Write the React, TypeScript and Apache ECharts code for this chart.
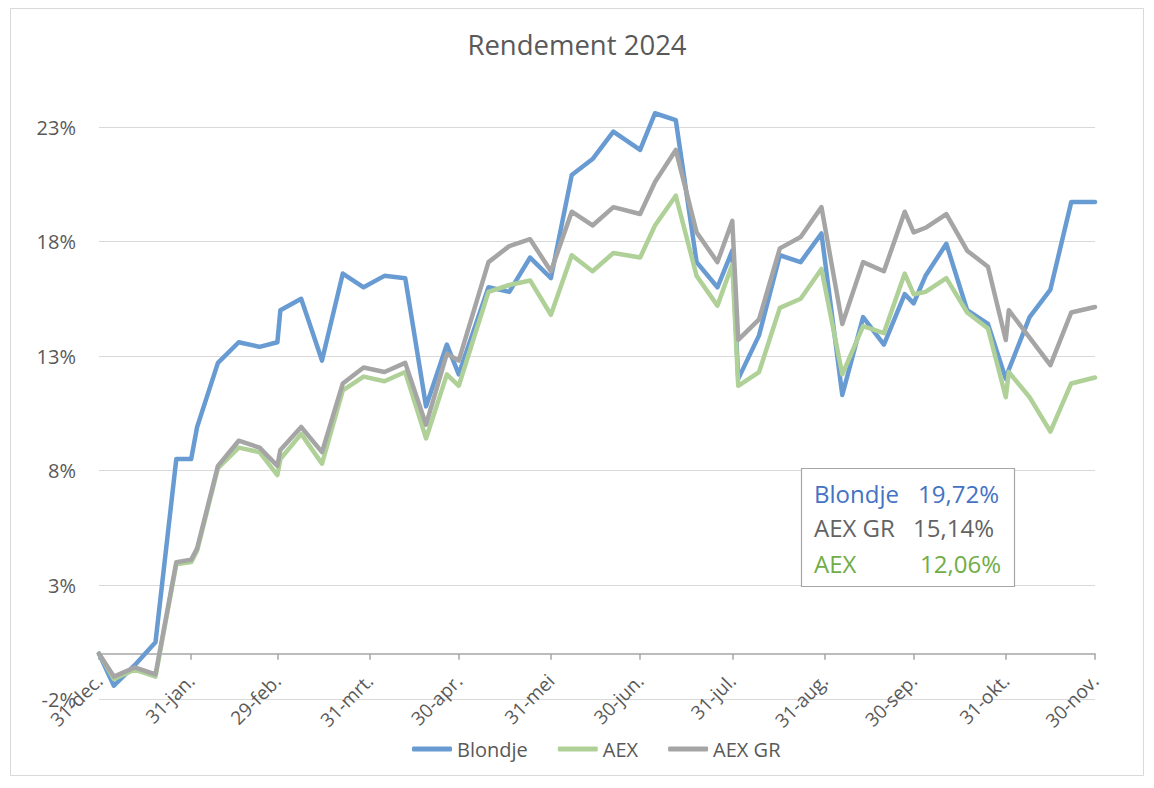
import React, { useEffect, useRef } from "react";
import * as echarts from "echarts";

const DATES = [
  "2023-12-31", "2024-01-05", "2024-01-12", "2024-01-19", "2024-01-26", "2024-01-31",
  "2024-02-02", "2024-02-09", "2024-02-16", "2024-02-23", "2024-02-29", "2024-03-01",
  "2024-03-08", "2024-03-15", "2024-03-22", "2024-03-29", "2024-04-05", "2024-04-12",
  "2024-04-19", "2024-04-26", "2024-04-30", "2024-05-10", "2024-05-17", "2024-05-24",
  "2024-05-31", "2024-06-07", "2024-06-14", "2024-06-21", "2024-06-30", "2024-07-05",
  "2024-07-12", "2024-07-19", "2024-07-26", "2024-07-31", "2024-08-02", "2024-08-09",
  "2024-08-16", "2024-08-23", "2024-08-30", "2024-09-06", "2024-09-13", "2024-09-20",
  "2024-09-27", "2024-09-30", "2024-10-04", "2024-10-11", "2024-10-18", "2024-10-25",
  "2024-10-31", "2024-11-01", "2024-11-08", "2024-11-15", "2024-11-22", "2024-11-30",
];

const BLONDJE = [
  0, -1.4, -0.5, 0.5, 8.5, 8.5,
  9.9, 12.7, 13.6, 13.4, 13.6, 15.0,
  15.5, 12.8, 16.6, 16.0, 16.5, 16.4,
  10.8, 13.5, 12.2, 16.0, 15.8, 17.3,
  16.4, 20.9, 21.6, 22.8, 22.0, 23.6,
  23.3, 17.1, 16.0, 17.6, 12.0, 13.9,
  17.4, 17.1, 18.35, 11.3, 14.7, 13.5,
  15.7, 15.3, 16.5, 17.9, 15.0, 14.4,
  12.0, 12.4, 14.7, 15.9, 19.72, 19.72,
];

const AEX = [
  0, -1.1, -0.7, -1.0, 3.9, 4.0,
  4.5, 8.1, 9.0, 8.8, 7.8, 8.5,
  9.6, 8.3, 11.5, 12.1, 11.9, 12.3,
  9.4, 12.2, 11.7, 15.8, 16.1, 16.3,
  14.8, 17.4, 16.7, 17.5, 17.3, 18.7,
  20.0, 16.5, 15.2, 17.0, 11.7, 12.3,
  15.1, 15.5, 16.8, 12.2, 14.3, 14.0,
  16.6, 15.7, 15.8, 16.4, 14.9, 14.2,
  11.2, 12.3, 11.2, 9.7, 11.8, 12.06,
];

const AEX_GR = [
  0, -1.0, -0.6, -0.9, 4.0, 4.1,
  4.6, 8.2, 9.3, 9.0, 8.2, 8.9,
  9.9, 8.8, 11.8, 12.5, 12.3, 12.7,
  10.0, 13.1, 12.8, 17.1, 17.8, 18.1,
  16.7, 19.3, 18.7, 19.5, 19.2, 20.6,
  22.0, 18.4, 17.1, 18.9, 13.7, 14.6,
  17.7, 18.2, 19.5, 14.4, 17.1, 16.7,
  19.3, 18.4, 18.6, 19.2, 17.6, 16.9,
  13.7, 15.0, 13.8, 12.6, 14.9, 15.14,
];

const TICK_DATES = [
  "2023-12-31", "2024-01-31", "2024-02-29", "2024-03-31", "2024-04-30", "2024-05-31",
  "2024-06-30", "2024-07-31", "2024-08-31", "2024-09-30", "2024-10-31", "2024-11-30",
];
const TICK_LABELS = [
  "31-dec.", "31-jan.", "29-feb.", "31-mrt.", "30-apr.", "31-mei",
  "30-jun.", "31-jul.", "31-aug.", "30-sep.", "31-okt.", "30-nov.",
];

const Y_TICKS = [-2, 3, 8, 13, 18, 23];

const SERIES_NAMES = ["Blondje", "AEX", "AEX GR"];
const FINAL_TEXT = ["19,72%", "15,14%", "12,06%"];

const FONT = "'Open Sans', Lato, sans-serif";
const START = Date.UTC(2023, 11, 31);
const dayIndex = (s: string) =>
  Math.round((Date.parse(s + "T00:00:00Z") - START) / 86400000);
const END_DAY = dayIndex(TICK_DATES[TICK_DATES.length - 1]);

export default function App() {
  const ref = useRef<HTMLDivElement>(null);

  useEffect(() => {
    if (!ref.current) return;
    const chart = echarts.init(ref.current, undefined, { renderer: "svg" });
    const categories = Array.from({ length: END_DAY + 1 }, (_, i) => String(i));
    const tickIdx = TICK_DATES.map(dayIndex);
    const mk = (vals: number[]) => DATES.map((d, i) => [dayIndex(d), vals[i]]);

    const colors = ["#699BD3", "#AFD197", "#A5A5A5"];
    const line = (name: string, vals: number[], color: string) => ({
      name,
      type: "line",
      data: mk(vals),
      symbol: "none",
      clip: false,
      lineStyle: { color, width: 4.5, join: "round", cap: "round" },
      itemStyle: { color },
    });

    chart.setOption({
      animation: false,
      backgroundColor: "#ffffff",
      title: {
        text: "Rendement 2024",
        left: "center",
        top: 25,
        textStyle: { fontFamily: FONT, fontSize: 27.5, fontWeight: "normal", color: "#595959" },
      },
      legend: {
        bottom: 24,
        left: 407,
        icon: "roundRect",
        itemWidth: 40,
        itemHeight: 5,
        itemGap: 30,
        data: SERIES_NAMES,
        textStyle: { fontFamily: FONT, fontSize: 20, color: "#595959" },
      },
      grid: { left: 99, right: 59, top: 127, bottom: 88.5, containLabel: false },
      xAxis: {
        type: "category",
        data: categories,
        boundaryGap: false,
        axisLine: { onZero: true, lineStyle: { color: "#A6A6A6", width: 1.5 } },
        axisTick: {
          show: true,
          length: 6,
          interval: (i: number) => tickIdx.includes(i),
          lineStyle: { color: "#A6A6A6", width: 1.5 },
        },
        axisLabel: {
          interval: (i: number) => tickIdx.includes(i),
          formatter: (_v: string, i: number) => TICK_LABELS[tickIdx.indexOf(i)] ?? "",
          rotate: 45,
          margin: -22,
          fontFamily: FONT,
          fontSize: 19,
          color: "#595959",
        },
        splitLine: { show: false },
      },
      yAxis: {
        type: "value",
        min: Y_TICKS[0],
        max: Y_TICKS[Y_TICKS.length - 1],
        interval: 5,
        axisLine: { show: false },
        axisTick: { show: false },
        axisLabel: {
          formatter: (v: number) => `${v}%`,
          margin: 23,
          fontFamily: FONT,
          fontSize: 20,
          color: "#595959",
        },
        splitLine: { lineStyle: { color: "#D9D9D9", width: 1 } },
      },
      series: [
        line(SERIES_NAMES[0], BLONDJE, colors[0]),
        line(SERIES_NAMES[1], AEX, colors[1]),
        line(SERIES_NAMES[2], AEX_GR, colors[2]),
      ],
      graphic: [
        {
          type: "rect",
          shape: { x: 10.5, y: 8.5, width: 1133, height: 767 },
          style: { fill: "none", stroke: "#D9D9D9", lineWidth: 1 },
          silent: true,
          z: -10,
        },
        {
          type: "rect",
          shape: { x: 801.5, y: 468.5, width: 213, height: 118 },
          style: { fill: "#ffffff", stroke: "#A6A6A6", lineWidth: 1.2 },
          z: 10,
        },
        {
          type: "text",
          x: 814, y: 493,
          style: { text: SERIES_NAMES[0], fill: "#4472C4", font: `24px ${FONT}`, verticalAlign: "middle" },
          z: 11,
        },
        {
          type: "text",
          x: 999, y: 493,
          style: { text: FINAL_TEXT[0], fill: "#4472C4", font: `24px ${FONT}`, align: "right", verticalAlign: "middle" },
          z: 11,
        },
        {
          type: "text",
          x: 814, y: 527,
          style: { text: SERIES_NAMES[2], fill: "#636363", font: `24px ${FONT}`, verticalAlign: "middle" },
          z: 11,
        },
        {
          type: "text",
          x: 994, y: 527,
          style: { text: FINAL_TEXT[1], fill: "#636363", font: `24px ${FONT}`, align: "right", verticalAlign: "middle" },
          z: 11,
        },
        {
          type: "text",
          x: 814, y: 563,
          style: { text: SERIES_NAMES[1], fill: "#70AD47", font: `24px ${FONT}`, verticalAlign: "middle" },
          z: 11,
        },
        {
          type: "text",
          x: 1001, y: 563,
          style: { text: FINAL_TEXT[2], fill: "#70AD47", font: `24px ${FONT}`, align: "right", verticalAlign: "middle" },
          z: 11,
        },
      ],
    });
    return () => chart.dispose();
  }, []);

  return (
    <div
      ref={ref}
      style={{ position: "fixed", left: 0, top: 0, width: 1154, height: 788, background: "#fff" }}
    />
  );
}
